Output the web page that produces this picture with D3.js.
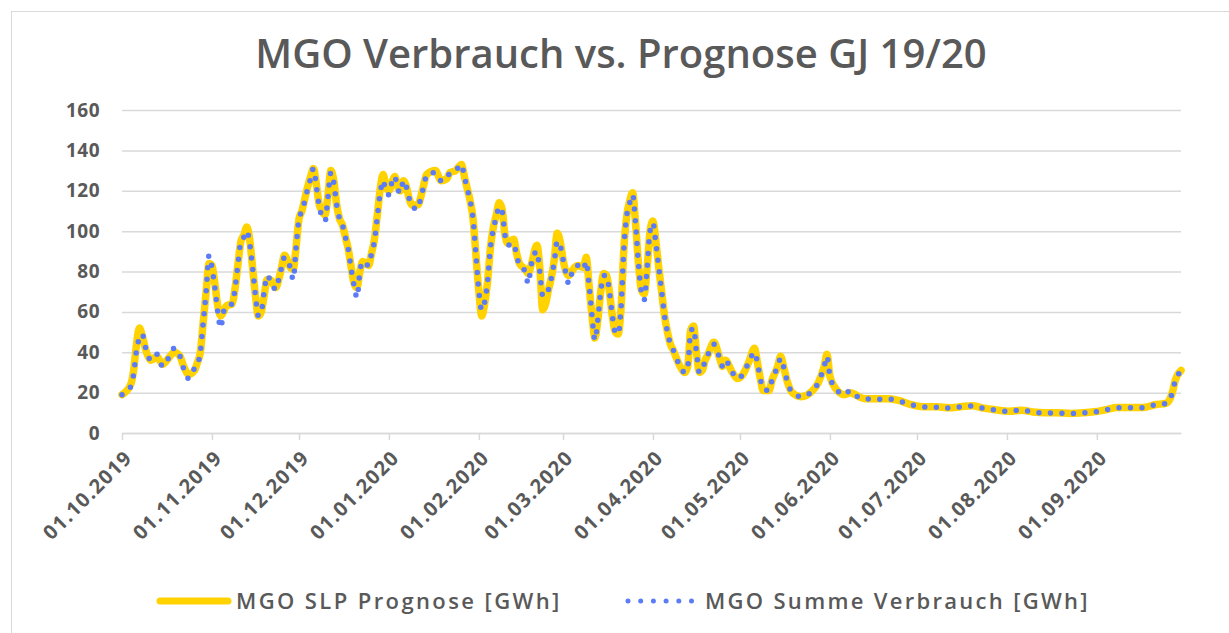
<!DOCTYPE html>
<html>
<head>
<meta charset="utf-8">
<script src="https://cdn.jsdelivr.net/npm/d3@7"></script>
<style>
body { margin: 0; background: #fff; }
svg text { font-family: "Open Sans", sans-serif; fill: #595959; }
</style>
</head>
<body>
<svg width="1229" height="633"></svg>
<script>

var datum = ["01.10.2019","04.10.2019","05.10.2019","06.10.2019","07.10.2019","08.10.2019","09.10.2019","10.10.2019","11.10.2019","13.10.2019",
    "15.10.2019","17.10.2019","19.10.2019","21.10.2019","22.10.2019","24.10.2019","26.10.2019","27.10.2019","28.10.2019","29.10.2019",
    "30.10.2019","31.10.2019","01.11.2019","02.11.2019","03.11.2019","04.11.2019","05.11.2019","06.11.2019","08.11.2019","09.11.2019",
    "10.11.2019","11.11.2019","12.11.2019","13.11.2019","14.11.2019","15.11.2019","16.11.2019","17.11.2019","18.11.2019","19.11.2019",
    "20.11.2019","21.11.2019","23.11.2019","24.11.2019","25.11.2019","26.11.2019","28.11.2019","29.11.2019","30.11.2019","01.12.2019",
    "02.12.2019","03.12.2019","04.12.2019","05.12.2019","06.12.2019","07.12.2019","08.12.2019","09.12.2019","10.12.2019","11.12.2019",
    "12.12.2019","13.12.2019","14.12.2019","15.12.2019","16.12.2019","17.12.2019","18.12.2019","19.12.2019","20.12.2019","21.12.2019",
    "22.12.2019","23.12.2019","25.12.2019","26.12.2019","27.12.2019","28.12.2019","29.12.2019","30.12.2019","31.12.2019","01.01.2020",
    "02.01.2020","03.01.2020","04.01.2020","05.01.2020","06.01.2020","07.01.2020","08.01.2020","09.01.2020","11.01.2020","12.01.2020",
    "13.01.2020","14.01.2020","17.01.2020","19.01.2020","21.01.2020","22.01.2020","24.01.2020","26.01.2020","27.01.2020","28.01.2020",
    "29.01.2020","30.01.2020","31.01.2020","01.02.2020","02.02.2020","03.02.2020","04.02.2020","05.02.2020","06.02.2020","07.02.2020",
    "08.02.2020","09.02.2020","10.02.2020","11.02.2020","13.02.2020","14.02.2020","15.02.2020","17.02.2020","18.02.2020","19.02.2020",
    "21.02.2020","22.02.2020","23.02.2020","24.02.2020","25.02.2020","26.02.2020","27.02.2020","28.02.2020","29.02.2020","01.03.2020",
    "02.03.2020","03.03.2020","04.03.2020","05.03.2020","06.03.2020","08.03.2020","09.03.2020","10.03.2020","11.03.2020","12.03.2020",
    "13.03.2020","14.03.2020","15.03.2020","16.03.2020","17.03.2020","18.03.2020","19.03.2020","20.03.2020","21.03.2020","22.03.2020",
    "23.03.2020","24.03.2020","25.03.2020","26.03.2020","27.03.2020","28.03.2020","29.03.2020","30.03.2020","31.03.2020","01.04.2020",
    "02.04.2020","03.04.2020","04.04.2020","05.04.2020","06.04.2020","07.04.2020","08.04.2020","10.04.2020","12.04.2020","13.04.2020",
    "14.04.2020","15.04.2020","16.04.2020","17.04.2020","18.04.2020","19.04.2020","20.04.2020","22.04.2020","24.04.2020","25.04.2020",
    "26.04.2020","28.04.2020","30.04.2020","02.05.2020","04.05.2020","06.05.2020","07.05.2020","08.05.2020","09.05.2020","11.05.2020",
    "12.05.2020","14.05.2020","15.05.2020","16.05.2020","17.05.2020","19.05.2020","22.05.2020","26.05.2020","28.05.2020","30.05.2020",
    "31.05.2020","01.06.2020","03.06.2020","06.06.2020","08.06.2020","09.06.2020","13.06.2020","17.06.2020","21.06.2020","25.06.2020",
    "29.06.2020","03.07.2020","08.07.2020","12.07.2020","16.07.2020","20.07.2020","24.07.2020","28.07.2020","02.08.2020","06.08.2020",
    "10.08.2020","14.08.2020","18.08.2020","23.08.2020","27.08.2020","31.08.2020","04.09.2020","08.09.2020","12.09.2020","17.09.2020",
    "21.09.2020","25.09.2020","27.09.2020","28.09.2020","30.09.2020"];

var verbrauch = [19,23,29,41,47,49,43,38,36,39,
    33,37,42,38,33,27,32,34,40,55,
    70,88,82,72,60,52,60,63,64,72,
    84,95,97,100,94,82,68,58,60,70,
    78,76,71,76,82,87,82,76,92,106,
    110,115,121,126,131,122,112,107,105,117,
    129,124,113,106,103,97,91,81,73,67,
    80,85,83,89,95,107,119,125,119,118,
    124,127,121,119,125,122,116,112,111,117,
    122,128,129,125,126,129,130,133,127,121,
    115,106,88,70,61,65,75,92,101,107,
    112,110,98,93,94,88,83,80,74,83,
    90,80,68,68,71,77,85,95,93,86,
    79,74,79,82,83,81,85,73,58,46,
    56,70,78,78,70,58,50,49,62,92,
    108,114,118,104,84,70,66,82,100,104,
    94,82,70,58,50,44,41,34,30,33,
    50,52,40,30,31,36,39,44,37,33,
    36,31,27,29,35,40,35,27,22,21,
    26,33,37,33,27,20,18,21,25,33,
    38,28,22,19,21,19.5,17,16.7,16.8,15.8,
    14,13,12.7,12.4,13,13.4,12.2,11.4,10.7,11.4,
    10.4,9.9,9.9,9.6,10,10.4,11.4,12.5,12.5,12.5,
    13.9,14.7,20,25.8,30.5];

var prognose = [19,24,31,44,52,48,42,38,36,38,
    34,37,40,38,34,29,31,35,40,55,
    70,84,83,74,63,58,60,63,64,72,
    84,95,98,102,96,82,68,58,60,68,
    76,76,72,76,82,88,82,81,92,106,
    110,116,122,127,131,123,113,110,108,118,
    130,125,113,106,103,97,91,82,74,72,
    80,85,83,89,96,108,121,128,122,120,
    124,127,122,120,125,122,116,113,113,117,
    123,128,130,125,126,129,130,133,127,121,
    115,106,88,70,58,64,75,92,102,108,
    114,111,98,94,96,89,84,81,79,83,
    93,82,61,64,71,77,86,99,95,86,
    80,78,80,82,83,82,87,73,58,47,
    56,70,79,78,70,58,50,49,62,92,
    108,115,119,104,84,71,69,82,100,105,
    95,82,70,58,50,44,41,34,30,33,
    51,53,40,30,31,36,39,45,37,33,
    36,31,27,29,35,42,35,27,21,21,
    26,33,38,33,27,20,18,21,25,33,
    39,28,22,19,20,19.5,17,17,17,16,
    14,13,13,12.5,13,13.5,12.3,11.5,10.8,11.3,
    10.4,10,10,9.7,10,10.5,11.5,12.6,12.6,12.6,
    14,14.8,20,26,31];

var monatsTicks = ["01.10.2019","01.11.2019","01.12.2019","01.01.2020","01.02.2020","01.03.2020",
    "01.04.2020","01.05.2020","01.06.2020","01.07.2020","01.08.2020","01.09.2020"];
var yTicks = [0, 20, 40, 60, 80, 100, 120, 140, 160];
var titel = "MGO Verbrauch vs. Prognose GJ 19/20";
var serienNamen = ["MGO SLP Prognose [GWh]", "MGO Summe Verbrauch [GWh]"];

var gelb = "#ffd200";
var blau = "#5b7cf6";
var grau = "#d9d9d9";

var svg = d3.select("svg");
var parse = d3.timeParse("%d.%m.%Y");

var plotLeft = 122, plotRight = 1181, plotTop = 110, plotBottom = 433;

var x = d3.scaleTime()
    .domain([parse("01.10.2019"), parse("30.09.2020")])
    .range([plotLeft, plotRight]);
var y = d3.scaleLinear()
    .domain([0, 160])
    .range([plotBottom, plotTop]);

var punkteP = datum.map(function(d, i) { return {t: parse(d), v: prognose[i]}; });
var punkteV = datum.map(function(d, i) { return {t: parse(d), v: verbrauch[i]}; });

// rahmen
svg.append("rect")
    .attr("x", 11.5).attr("y", 11.5)
    .attr("width", 1240).attr("height", 640)
    .attr("fill", "#fff")
    .attr("stroke", grau);

svg.append("text")
    .attr("x", 621).attr("y", 68)
    .attr("text-anchor", "middle")
    .style("font-size", "40px")
    .style("font-weight", 600)
    .text(titel);

// y achse + gitter
var yAxis = svg.append("g")
    .attr("transform", "translate(" + plotLeft + ",0)")
    .call(d3.axisLeft(y).tickValues(yTicks).tickSize(-(plotRight - plotLeft)).tickPadding(22));
yAxis.select(".domain").remove();
yAxis.selectAll("line").attr("stroke", grau).attr("stroke-width", 1.5);
yAxis.selectAll("text")
    .attr("fill", "#595959")
    .style("font-size", "19px")
    .style("font-weight", 700)
    .style("letter-spacing", "0.5px")
    .style("font-family", "'Open Sans', sans-serif");

// x achse
var xAxis = svg.append("g")
    .attr("transform", "translate(0," + plotBottom + ")")
    .call(d3.axisBottom(x).tickValues(monatsTicks.map(parse))
        .tickFormat(d3.timeFormat("%d.%m.%Y")).tickSize(7).tickSizeOuter(0));
xAxis.select(".domain").attr("stroke", grau).attr("stroke-width", 1.5);
xAxis.selectAll("line").attr("stroke", grau).attr("stroke-width", 1.5);
xAxis.selectAll("text")
    .attr("fill", "#595959")
    .attr("text-anchor", "end")
    .attr("dy", 0)
    .attr("transform", "translate(4,19) rotate(-45)")
    .style("font-size", "20px")
    .style("font-weight", 700)
    .style("letter-spacing", "1.3px")
    .style("font-family", "'Open Sans', sans-serif");

var linie = d3.line()
    .x(function(d) { return x(d.t); })
    .y(function(d) { return y(d.v); })
    .curve(d3.curveMonotoneX);

svg.append("path")
    .datum(punkteP)
    .attr("d", linie)
    .attr("fill", "none")
    .attr("stroke", gelb)
    .attr("stroke-width", 7.5)
    .attr("stroke-linejoin", "round")
    .attr("stroke-linecap", "round");

svg.append("path")
    .datum(punkteV)
    .attr("d", linie)
    .attr("fill", "none")
    .attr("stroke", blau)
    .attr("stroke-width", 5.5)
    .attr("stroke-dasharray", "0 11.5")
    .attr("stroke-linecap", "round");

// legende
var leg = svg.append("g");
leg.append("line")
    .attr("x1", 160).attr("x2", 228).attr("y1", 601).attr("y2", 601)
    .attr("stroke", gelb).attr("stroke-width", 7).attr("stroke-linecap", "round");
leg.append("text")
    .attr("x", 236).attr("y", 609)
    .style("font-size", "22px").style("font-weight", 600)
    .style("letter-spacing", "2.4px")
    .text(serienNamen[0]);
leg.append("line")
    .attr("x1", 628).attr("x2", 692).attr("y1", 601).attr("y2", 601)
    .attr("stroke", blau).attr("stroke-width", 5)
    .attr("stroke-dasharray", "0 12.7").attr("stroke-linecap", "round");
leg.append("text")
    .attr("x", 705).attr("y", 609)
    .style("font-size", "22px").style("font-weight", 600)
    .style("letter-spacing", "2.3px")
    .text(serienNamen[1]);

</script>
</body>
</html>
